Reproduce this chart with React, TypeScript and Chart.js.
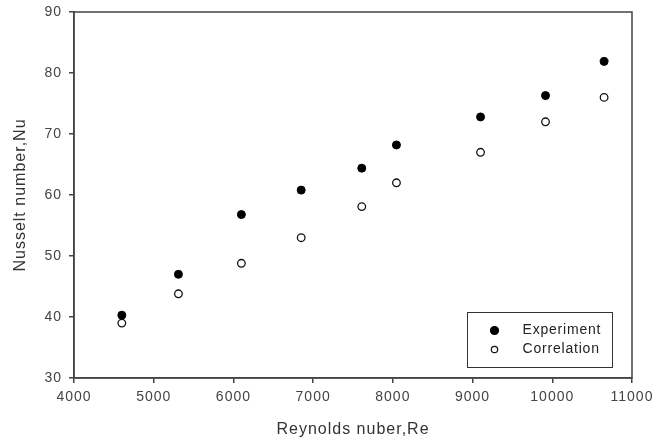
import React, { useEffect, useRef } from "react";
import { Chart, registerables } from "chart.js";

Chart.register(...registerables);

const reynolds = [4600, 5310, 6100, 6850, 7610, 8045, 9100, 9915, 10650];
const experiment = [40.3, 47.0, 56.8, 60.8, 64.4, 68.2, 72.8, 76.3, 81.9];
const correlation = [39.0, 43.8, 48.8, 53.0, 58.1, 62.0, 67.0, 72.0, 76.0];
const seriesNames = ["Experiment", "Correlation"];
const xTitle = "Reynolds nuber,Re";
const yTitle = "Nusselt number,Nu";

const FONT = "'Liberation Sans', Arial, sans-serif";

const spacingPlugin = {
  id: "spacing",
  beforeUpdate(chart: any) { chart.ctx.letterSpacing = "1px"; },
  beforeLayout(chart: any) { chart.ctx.letterSpacing = "1px"; },
  beforeDraw(chart: any) { chart.ctx.letterSpacing = "1px"; },
};

const framePlugin = {
  id: "frame",
  afterDraw(chart: any) {
    const { ctx, chartArea } = chart;
    ctx.save();
    ctx.strokeStyle = "#444";
    ctx.lineWidth = 1.5;
    ctx.strokeRect(chartArea.left, chartArea.top, chartArea.right - chartArea.left, chartArea.bottom - chartArea.top);
    ctx.restore();
  },
};

const boxLegendPlugin = {
  id: "boxLegend",
  afterDraw(chart: any) {
    const { ctx, chartArea } = chart;
    const xs = chart.scales.x;
    const left = Math.round(xs.getPixelForValue(8925)) + 0.5;
    const right = Math.round(xs.getPixelForValue(10745)) + 0.5;
    const bottom = chartArea.bottom - 10.5;
    const top = bottom - 55;
    ctx.save();
    ctx.fillStyle = "#fff";
    ctx.fillRect(left, top, right - left, bottom - top);
    ctx.strokeStyle = "#333";
    ctx.lineWidth = 1;
    ctx.strokeRect(left, top, right - left, bottom - top);
    ctx.font = `14px ${FONT}`;
    ctx.letterSpacing = "0.8px";
    ctx.textBaseline = "middle";
    chart.data.datasets.forEach((ds: any, i: number) => {
      const cy = top + 18 + i * 19;
      const mx = left + 27;
      ctx.beginPath();
      ctx.arc(mx, cy, i === 0 ? 4 : 3.2, 0, Math.PI * 2);
      ctx.fillStyle = ds.backgroundColor;
      ctx.fill();
      ctx.strokeStyle = ds.borderColor;
      ctx.lineWidth = 1.2;
      ctx.stroke();
      ctx.fillStyle = "#222";
      ctx.fillText(ds.label, left + 55, cy);
    });
    ctx.restore();
  },
};

export default function App() {
  const ref = useRef<HTMLCanvasElement>(null);
  useEffect(() => {
    if (!ref.current) return;
    const chart = new Chart(ref.current, {
      type: "scatter",
      data: {
        datasets: [
          {
            label: seriesNames[0],
            data: reynolds.map((x, i) => ({ x, y: experiment[i] })),
            backgroundColor: "#000",
            borderColor: "#000",
            pointRadius: 4,
            borderWidth: 1,
          },
          {
            label: seriesNames[1],
            data: reynolds.map((x, i) => ({ x, y: correlation[i] })),
            backgroundColor: "#fff",
            borderColor: "#111",
            pointRadius: 3.8,
            borderWidth: 1.3,
          },
        ],
      },
      options: {
        animation: false,
        responsive: false,
        layout: { padding: { top: 12, right: 33, left: 0, bottom: 0 } },
        plugins: { legend: { display: false }, tooltip: { enabled: false } },
        scales: {
          x: {
            type: "linear",
            min: 4000,
            max: 11000,
            afterFit: (s: any) => { s.height = 65; },
            ticks: { stepSize: 1000, color: "#444", font: { family: FONT, size: 14 }, padding: 6, maxRotation: 0, callback: (v: any) => String(v) },
            grid: { drawOnChartArea: false, drawTicks: true, tickLength: 5, color: "#444", lineWidth: 1.5 },
            border: { color: "#444", width: 1.5 },
            title: { display: true, text: xTitle, color: "#333", font: { family: FONT, size: 16 }, padding: { top: 8 } },
          },
          y: {
            type: "linear",
            min: 30,
            max: 90,
            afterFit: (s: any) => { s.width = 74; s.paddingTop = 0; s.paddingBottom = 0; },
            ticks: { stepSize: 10, color: "#444", font: { family: FONT, size: 14 }, padding: 7, callback: (v: any) => String(v) },
            grid: { drawOnChartArea: false, drawTicks: true, tickLength: 5, color: "#444", lineWidth: 1.5 },
            border: { color: "#444", width: 1.5 },
            title: { display: true, text: yTitle, color: "#333", font: { family: FONT, size: 16 }, padding: { top: 11, bottom: 0 } },
          },
        },
      },
      plugins: [spacingPlugin, framePlugin, boxLegendPlugin],
    });
    return () => chart.destroy();
  }, []);
  return (
    <div style={{ position: "fixed", left: 0, top: 0, width: 665, height: 443, background: "#fff" }}>
      <canvas ref={ref} width={665} height={443} />
    </div>
  );
}
